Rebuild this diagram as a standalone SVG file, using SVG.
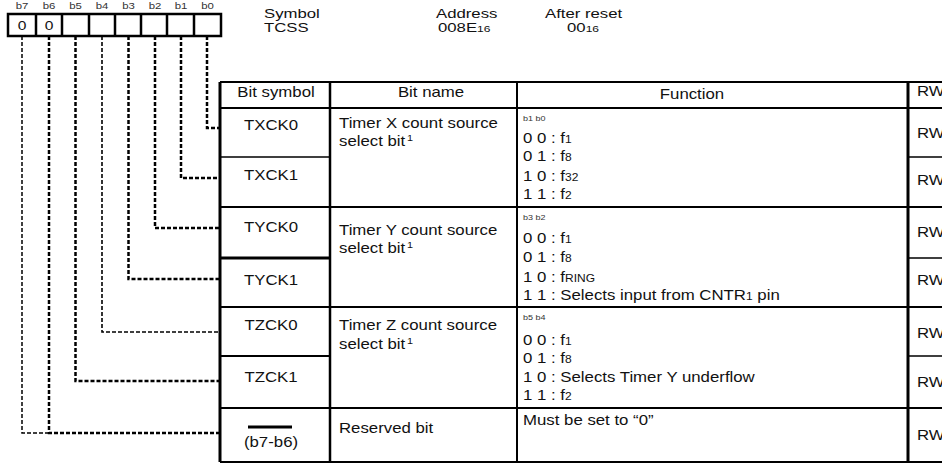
<svg xmlns="http://www.w3.org/2000/svg" width="942" height="463" viewBox="0 0 942 463">
<style>
text{font-family:"Liberation Sans",Arial,sans-serif;font-size:14px;fill:#111}
.lbl{font-size:9.5px;fill:#333}
.tiny{font-size:7.5px;fill:#333}
.top{font-size:12.5px}
.mid{text-anchor:middle}
.sub{font-size:10px}
.top .sub{font-size:9px}
.sup{font-size:9px}
.cell{fill:none;stroke:#000}
.conn{fill:none;stroke:#000;stroke-dasharray:4 2}
</style>
<rect width="942" height="463" fill="#fff"/>

<g id="register">
  <rect x="8" y="14" width="213" height="22" fill="none" stroke="#000" stroke-width="2.5"/>
  <path d="M36 14V36M62 14V36M89 14V36M115 14V36M141 14V36M167 14V36M194 14V36" stroke="#000" stroke-width="2.5"/>
  <text class="lbl mid" transform="translate(22 9) scale(1.2 1)">b7</text>
  <text class="lbl mid" transform="translate(49 9) scale(1.2 1)">b6</text>
  <text class="lbl mid" transform="translate(75.5 9) scale(1.2 1)">b5</text>
  <text class="lbl mid" transform="translate(102 9) scale(1.2 1)">b4</text>
  <text class="lbl mid" transform="translate(128.5 9) scale(1.2 1)">b3</text>
  <text class="lbl mid" transform="translate(155 9) scale(1.2 1)">b2</text>
  <text class="lbl mid" transform="translate(181 9) scale(1.2 1)">b1</text>
  <text class="lbl mid" transform="translate(207.5 9) scale(1.2 1)">b0</text>
  <text class="mid" style="font-size:13px" transform="translate(22 30) scale(1.2 1)">0</text>
  <text class="mid" style="font-size:13px" transform="translate(49 30) scale(1.2 1)">0</text>
</g>

<g id="info">
  <text class="top" transform="translate(264 18) scale(1.34 1)">Symbol</text>
  <text class="top" transform="translate(264 32) scale(1.34 1)">TCSS</text>
  <text class="top" transform="translate(436 18) scale(1.34 1)">Address</text>
  <text class="top" transform="translate(438 32) scale(1.34 1)">008E<tspan class="sub">16</tspan></text>
  <text class="top" transform="translate(545 18) scale(1.34 1)">After reset</text>
  <text class="top" transform="translate(567 32) scale(1.34 1)">00<tspan class="sub">16</tspan></text>
</g>

<g id="connectors">
  <path class="conn" stroke-width="2.5" d="M207 36V128H220"/>
  <path class="conn" stroke-width="2.5" d="M181 36V178H220"/>
  <path class="conn" stroke-width="2.5" d="M155 36V228H220"/>
  <path class="conn" stroke-width="2.5" d="M128.5 36V279H220"/>
  <path class="conn" stroke-width="1.6" d="M102 36V332H220"/>
  <path class="conn" stroke-width="2.5" d="M75.5 36V381H220"/>
  <path class="conn" stroke-width="2.5" d="M49 36V433H220"/>
  <path class="conn" stroke-width="1.5" d="M22 36V433H49"/>
</g>

<g id="table-grid">
  <path class="cell" stroke-width="3" d="M220 82V462M908 82V462"/>
  <path class="cell" stroke-width="2.5" d="M330 82V462"/>
  <path class="cell" stroke-width="2" d="M517 82V462"/>
  <path class="cell" stroke-width="2" d="M220 82H942M220 108H942M220 207H942M220 307H942M220 408H942M220 462H942"/>
  <path class="cell" stroke-width="1.5" d="M220 157H330M908 157H942M908 258H942M908 356H942"/>
  <path class="cell" stroke-width="3" d="M220 258H330"/>
  <path class="cell" stroke-width="2" d="M220 356H330"/>
</g>

<g id="header">
  <text class="mid" transform="translate(276 97) scale(1.2 1)">Bit symbol</text>
  <text class="mid" transform="translate(431 97) scale(1.2 1)">Bit name</text>
  <text class="mid" transform="translate(692 99) scale(1.2 1)">Function</text>
  <text transform="translate(917 96) scale(1.2 1)">RW</text>
</g>

<g id="row-txck0">
  <text class="mid" transform="translate(271 130) scale(1.2 1)">TXCK0</text>
  <text transform="translate(917 138) scale(1.2 1)">RW</text>
</g>
<g id="row-txck1">
  <text class="mid" transform="translate(271 180) scale(1.2 1)">TXCK1</text>
  <text transform="translate(917 185) scale(1.2 1)">RW</text>
</g>
<g id="timer-x">
  <text transform="translate(339 128) scale(1.2 1)">Timer X count source</text>
  <text transform="translate(339 146) scale(1.2 1)">select bit<tspan class="sup" dx="1.5" dy="-5">1</tspan></text>
  <text class="tiny" transform="translate(523 121) scale(1.2 1)">b1 b0</text>
  <text transform="translate(523 143) scale(1.2 1)">0 0 : f<tspan class="sub">1</tspan></text>
  <text transform="translate(523 161) scale(1.2 1)">0 1 : f<tspan class="sub">8</tspan></text>
  <text transform="translate(523 181) scale(1.2 1)">1 0 : f<tspan class="sub">32</tspan></text>
  <text transform="translate(523 199) scale(1.2 1)">1 1 : f<tspan class="sub">2</tspan></text>
</g>

<g id="row-tyck0">
  <text class="mid" transform="translate(271 232) scale(1.2 1)">TYCK0</text>
  <text transform="translate(917 237) scale(1.2 1)">RW</text>
</g>
<g id="row-tyck1">
  <text class="mid" transform="translate(271 285) scale(1.2 1)">TYCK1</text>
  <text transform="translate(917 285) scale(1.2 1)">RW</text>
</g>
<g id="timer-y">
  <text transform="translate(339 235) scale(1.2 1)">Timer Y count source</text>
  <text transform="translate(339 253) scale(1.2 1)">select bit<tspan class="sup" dx="1.5" dy="-5">1</tspan></text>
  <text class="tiny" transform="translate(523 220) scale(1.2 1)">b3 b2</text>
  <text transform="translate(523 243) scale(1.2 1)">0 0 : f<tspan class="sub">1</tspan></text>
  <text transform="translate(523 262) scale(1.2 1)">0 1 : f<tspan class="sub">8</tspan></text>
  <text transform="translate(523 282) scale(1.2 1)">1 0 : f<tspan class="sub">RING</tspan></text>
  <text transform="translate(523 300) scale(1.2 1)">1 1 : Selects input from CNTR<tspan class="sub">1</tspan> pin</text>
</g>

<g id="row-tzck0">
  <text class="mid" transform="translate(271 330) scale(1.2 1)">TZCK0</text>
  <text transform="translate(917 338) scale(1.2 1)">RW</text>
</g>
<g id="row-tzck1">
  <text class="mid" transform="translate(271 382) scale(1.2 1)">TZCK1</text>
  <text transform="translate(917 387) scale(1.2 1)">RW</text>
</g>
<g id="timer-z">
  <text transform="translate(339 330) scale(1.2 1)">Timer Z count source</text>
  <text transform="translate(339 349) scale(1.2 1)">select bit<tspan class="sup" dx="1.5" dy="-5">1</tspan></text>
  <text class="tiny" transform="translate(523 320) scale(1.2 1)">b5 b4</text>
  <text transform="translate(523 345) scale(1.2 1)">0 0 : f<tspan class="sub">1</tspan></text>
  <text transform="translate(523 363) scale(1.2 1)">0 1 : f<tspan class="sub">8</tspan></text>
  <text transform="translate(523 382) scale(1.2 1)">1 0 : Selects Timer Y underflow</text>
  <text transform="translate(523 400) scale(1.2 1)">1 1 : f<tspan class="sub">2</tspan></text>
</g>

<g id="row-reserved">
  <path d="M248 427H292" stroke="#000" stroke-width="3"/>
  <text class="mid" transform="translate(271 447) scale(1.2 1)">(b7-b6)</text>
  <text transform="translate(339 433) scale(1.2 1)">Reserved bit</text>
  <text transform="translate(523 425) scale(1.2 1)">Must be set to “0”</text>
  <text transform="translate(917 440) scale(1.2 1)">RW</text>
</g>
</svg>
